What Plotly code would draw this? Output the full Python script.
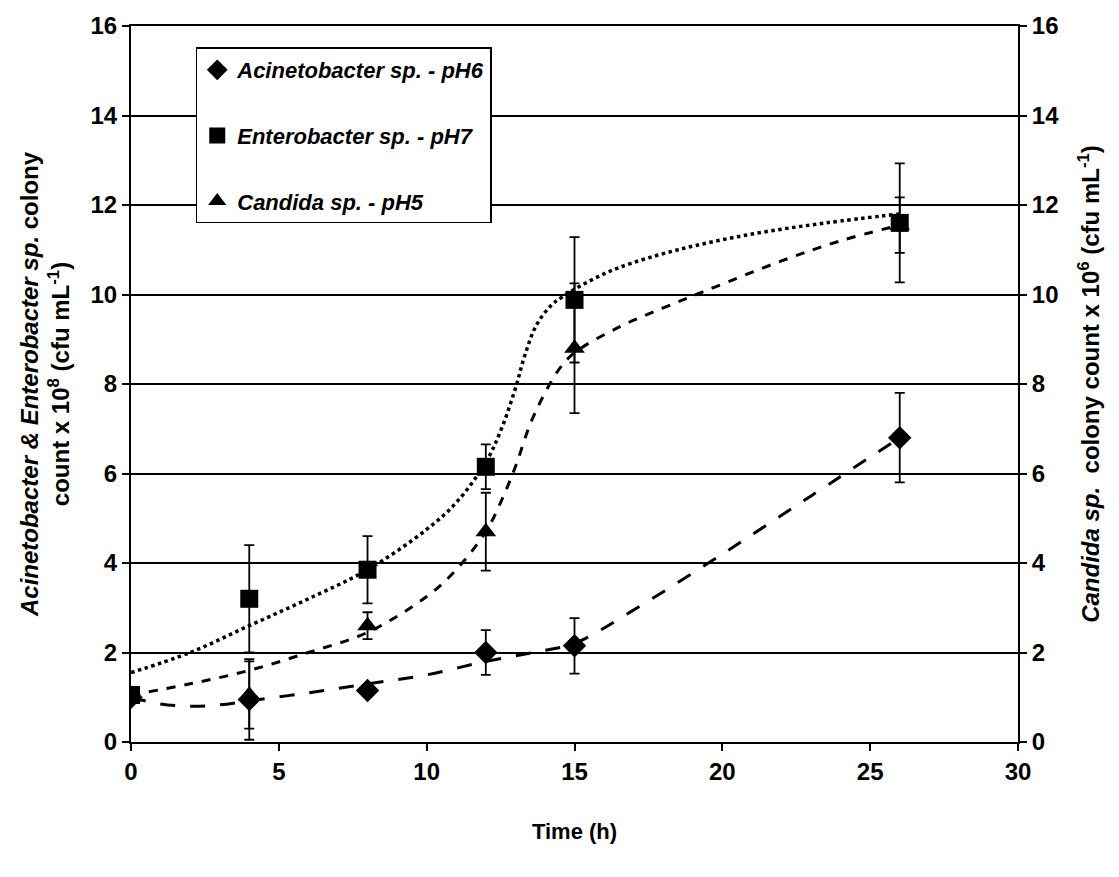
import plotly.graph_objects as go

# Measured points
time_h = [0, 4, 8, 12, 15, 26]
acin = [1.0, 0.95, 1.15, 2.0, 2.15, 6.8]
acin_err = [0.0, 0.9, 0.1, 0.5, 0.62, 1.0]
entero = [1.05, 3.2, 3.85, 6.15, 9.88, 11.6]
entero_err = [0.05, 1.2, 0.75, 0.5, 1.4, 1.33]
candida = [1.0, 1.05, 2.6, 4.7, 8.8, 11.55]
candida_err = [0.0, 0.75, 0.3, 0.87, 1.45, 0.62]

# Fitted trend curves
acin_fit_x = [0, 1, 2, 3, 4, 6, 8, 10, 12, 14, 15, 17, 20, 23, 26]
acin_fit_y = [1.0, 0.85, 0.8, 0.83, 0.92, 1.1, 1.3, 1.5, 1.8, 2.05, 2.2, 2.95, 4.2, 5.5, 6.8]
entero_fit_x = [0, 2, 4, 6, 8, 10, 11, 12, 12.5, 13, 13.3, 13.7, 14.2, 14.6, 15.5, 16.5, 18.5, 21, 23.5, 26]
entero_fit_y = [1.55, 2.0, 2.6, 3.2, 3.85, 4.75, 5.35, 6.25, 6.95, 7.9, 8.6, 9.3, 9.75, 9.95, 10.3, 10.6, 11.0, 11.35, 11.6, 11.8]
candida_fit_x = [0, 2, 4, 6, 8, 10, 11, 12, 12.5, 13, 13.5, 14, 14.5, 15, 16.5, 18, 19.5, 22, 24, 26]
candida_fit_y = [1.05, 1.3, 1.6, 2.0, 2.45, 3.25, 3.85, 4.7, 5.35, 6.15, 7.1, 7.8, 8.35, 8.7, 9.27, 9.7, 10.1, 10.75, 11.2, 11.55]

x_ticks = [0, 5, 10, 15, 20, 25, 30]
y_ticks = [0, 2, 4, 6, 8, 10, 12, 14, 16]

BLACK = "#000000"
FONT = "Liberation Sans, Arial, sans-serif"

fig = go.Figure()

fig.add_trace(go.Scatter(x=acin_fit_x, y=acin_fit_y, mode="lines", line=dict(color=BLACK, width=3, dash="longdash", shape="spline"), showlegend=False, hoverinfo="skip"))
fig.add_trace(go.Scatter(x=entero_fit_x, y=entero_fit_y, mode="lines", line=dict(color=BLACK, width=3.5, dash="dot", shape="spline"), showlegend=False, hoverinfo="skip"))
fig.add_trace(go.Scatter(x=candida_fit_x, y=candida_fit_y, mode="lines", line=dict(color=BLACK, width=3, dash="dash", shape="spline"), showlegend=False, hoverinfo="skip", yaxis="y2"))

err_style = dict(type="data", visible=True, color=BLACK, thickness=1.8, width=5)

fig.add_trace(go.Scatter(x=time_h, y=acin, mode="markers", name="<i>Acinetobacter sp. - pH6</i>", legendgroup="a",
                         marker=dict(symbol="diamond", size=18, color=BLACK),
                         error_y=dict(array=acin_err, **err_style)))
fig.add_trace(go.Scatter(x=time_h, y=entero, mode="markers", name="<i>Enterobacter sp. - pH7</i>", legendgroup="b",
                         marker=dict(symbol="square", size=18, color=BLACK),
                         error_y=dict(array=entero_err, **err_style)))
fig.add_trace(go.Scatter(x=time_h, y=candida, mode="markers", name="<i>Candida sp. - pH5</i>", legendgroup="c",
                         marker=dict(symbol="triangle-up", size=18, color=BLACK),
                         error_y=dict(array=candida_err, **err_style), yaxis="y2"))

axis_common = dict(showline=True, linecolor=BLACK, linewidth=2, ticks="outside", ticklen=7, tickwidth=1.5,
                   tickcolor=BLACK, tickfont=dict(family=FONT, size=24, color=BLACK, weight="bold"),
                   zeroline=False, automargin=False)

fig.update_layout(
    width=1119, height=877,
    paper_bgcolor="white", plot_bgcolor="white",
    margin=dict(l=123, r=109, t=18, b=143),
    font=dict(family=FONT, color=BLACK),
    xaxis=dict(range=[0, 30], tickvals=x_ticks, showgrid=False, mirror=True,
               title=dict(text="<b>Time (h)</b>", font=dict(family=FONT, size=22, color=BLACK), standoff=40),
               **axis_common),
    yaxis=dict(range=[0, 16], tickvals=y_ticks, showgrid=True, gridcolor=BLACK, gridwidth=1.5,
               title=dict(text="<b><i>Acinetobacter &amp; Enterobacter sp.</i> colony<br>count x 10<sup>8</sup> (cfu mL<sup>-1</sup>)</b>",
                          font=dict(family=FONT, size=24, color=BLACK), standoff=14),
               **axis_common),
    yaxis2=dict(range=[0, 16], tickvals=y_ticks, overlaying="y", side="right", showgrid=False,
                title=dict(text="<b><i>Candida sp.</i>  colony count x 10<sup>6</sup> (cfu mL<sup>-1</sup>)</b>",
                           font=dict(family=FONT, size=24, color=BLACK), standoff=24),
                **axis_common),
    legend=dict(x=0.073, y=0.97, xanchor="left", yanchor="top", bgcolor="white", bordercolor=BLACK, borderwidth=1.5,
                font=dict(family=FONT, size=22, color=BLACK, weight="bold"), traceorder="grouped", tracegroupgap=34,
                itemwidth=30),
    showlegend=True,
)

fig.write_html("out.html")
